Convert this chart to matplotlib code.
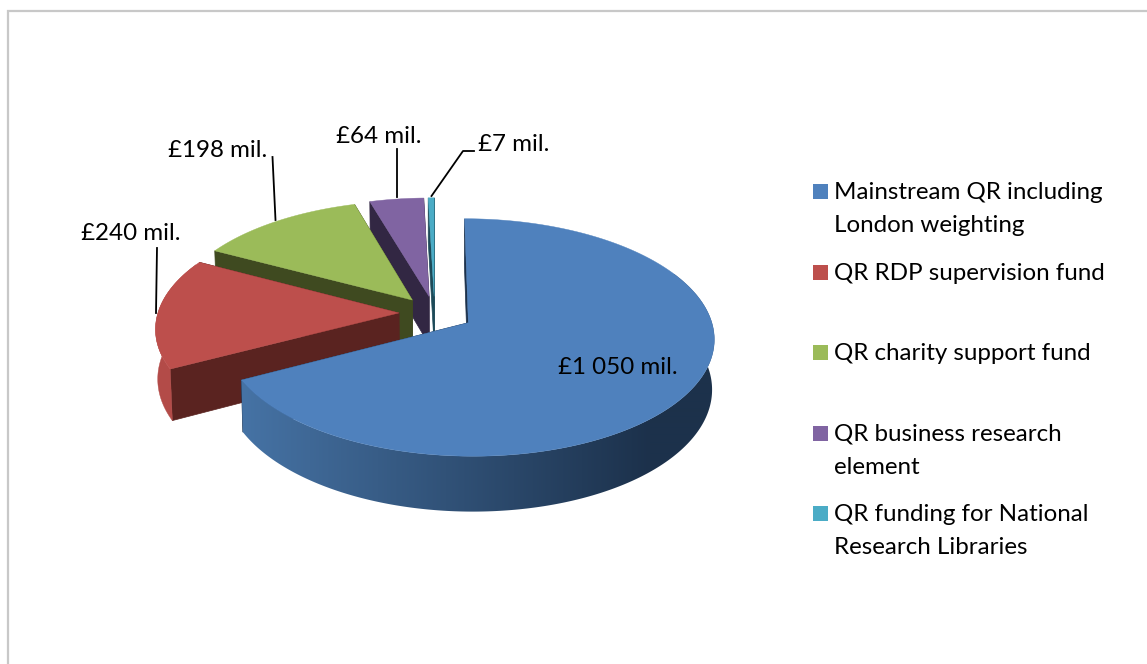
import numpy as np
import matplotlib
matplotlib.use("Agg")
import matplotlib.pyplot as plt
from matplotlib.colors import to_rgb
from matplotlib.patches import Polygon

# ---- data -------------------------------------------------------------
categories = ["Mainstream QR including\nLondon weighting", "QR RDP supervision fund",
              "QR charity support fund", "QR business research\nelement",
              "QR funding for National\nResearch Libraries"]
values = [1050, 240, 198, 64, 7]
value_labels = ["£1 050 mil.", "£240 mil.", "£198 mil.", "£64 mil.", "£7 mil."]
top_colors = ["#4f81bd", "#bd4f4c", "#9bbb59", "#8064a2", "#4bacc6"]
face_colors = ["#1c314b", "#5a2320", "#3f4a20", "#322743", "#1d4a58"]
wall_light = ["#4673a5", "#b34b48", "#7f9a48", "#6a5387", "#3f93a9"]
wall_dark = ["#1c314b", "#b34b48", "#7f9a48", "#6a5387", "#3f93a9"]

# ---- layout -----------------------------------------------------------
W, H = 1147, 664
CX, CY = 434.6, 313.0
A, B = 241.0, 114.5
PERSP = 0.123
EXPLODE = [0.162, 0.148, 0.148, 0.148, 0.148]
DZ = 49.0
BOTTOM_SCALE = 0.992
FONT = "Lato"
FS = 17.4
GRAD_END_X = 650

fig = plt.figure(figsize=(W / 100, H / 100), dpi=100, facecolor="white")
ax = fig.add_axes([0, 0, 1, 1])
ax.set_xlim(0, W)
ax.set_ylim(H, 0)
ax.axis("off")


def project(X, Y, bottom=False):
    w = 1 + PERSP * Y
    s = BOTTOM_SCALE if bottom else 1.0
    return CX + s * A * X / w, CY - s * B * Y / w + (DZ / w if bottom else 0)


def draw_slice(t0, t1, i):
    mid = np.radians((t0 + t1) / 2)
    ox, oy = EXPLODE[i] * np.sin(mid), EXPLODE[i] * np.cos(mid)
    th = np.radians(np.linspace(t0, t1, max(int((t1 - t0) * 2), 4)))
    rx, ry = ox + np.sin(th), oy + np.cos(th)
    tx, ty = project(rx, ry)
    bx, by = project(rx, ry, True)
    px, py = project(ox, oy)
    qx, qy = project(ox, oy, True)
    z = (5 - i) * 10
    # radial faces
    for k in (0, -1):
        ax.fill([px, tx[k], bx[k], qx], [py, ty[k], by[k], qy],
                color=face_colors[i], lw=0.5, zorder=10 + z)
    # outer wall
    front = np.cos(th) < 0.45
    if front.any():
        wx = np.r_[tx[front], bx[front][::-1]]
        wy = np.r_[ty[front], by[front][::-1]]
        if wall_light[i] == wall_dark[i]:
            ax.fill(wx, wy, color=wall_light[i], lw=0.3, zorder=11 + z)
        else:
            x0, x1 = wx.min(), wx.max()
            n = int(x1 - x0) + 1
            f = np.clip((np.linspace(x0, x1, n) - x0) / (GRAD_END_X - x0), 0, 1)[None, :, None]
            light, dark = np.array(to_rgb(wall_light[i])), np.array(to_rgb(wall_dark[i]))
            img = light[None, None, :] + (dark - light)[None, None, :] * f
            im = ax.imshow(img, extent=(x0, x1, wy.max(), wy.min()), aspect="auto",
                           interpolation="bilinear", zorder=11 + z)
            clip = Polygon(np.c_[wx, wy], closed=True, transform=ax.transData)
            im.set_clip_path(clip)
            ax.set_xlim(0, W)
            ax.set_ylim(H, 0)
    # top surface
    ax.fill(np.r_[px, tx], np.r_[py, ty], color=top_colors[i], lw=0.3, zorder=12 + z)


angles = np.r_[0, np.cumsum(values)] / np.sum(values) * 360
for i in range(len(values) - 1, -1, -1):
    draw_slice(angles[i], angles[i + 1], i)

# frame (open at right and bottom as cropped)
ax.plot([7.5, 7.5, W + 2], [H + 2, 11, 11], color="#c8c8c8", lw=1.6, solid_joinstyle="miter", zorder=1)

# value labels and leader lines
label_pos = [(558, 374), (81, 240), (168, 157), (336, 143), (478, 151)]
for s, (x, y) in zip(value_labels, label_pos):
    ax.text(x, y, s, family=FONT, fontsize=FS, color="black", ha="left", va="baseline", zorder=200)
leaders = [([157, 156], [248, 313]), ([272.5, 275.5], [157, 220]), ([397, 397], [149, 197]),
           ([474, 463, 431.5], [151, 151, 196])]
for xs, ys in leaders:
    ax.plot(xs, ys, color="black", lw=1.3, zorder=150)

# legend
swatch_y = [191.5, 272.5, 352.5, 433.5, 513.5]
baselines = [199, 280, 360, 441, 521]
LINE_GAP = 32.5
for c, name, sy, by in zip(top_colors, categories, swatch_y, baselines):
    ax.fill([813, 828, 828, 813], [sy - 7.5, sy - 7.5, sy + 7.5, sy + 7.5], color=c, lw=0, zorder=5)
    for j, line in enumerate(name.split("\n")):
        ax.text(834, by + j * LINE_GAP, line, family=FONT, fontsize=FS, color="black",
                ha="left", va="baseline", zorder=5)

fig.savefig("out.png", dpi=100, facecolor="white")
